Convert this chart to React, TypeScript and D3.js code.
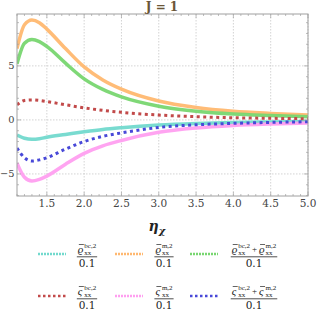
import * as d3 from 'd3';
import React from 'react';

// eta_chi sample points and the six curves
const etaValues = [1.1, 1.2, 1.3, 1.4, 1.5, 1.75, 2.0, 2.25, 2.5, 3.0, 3.5, 4.0, 4.5, 5.0];
const rhoBc = [-1.4, -1.7, -1.8, -1.75, -1.6, -1.35, -1.1, -0.88, -0.72, -0.48, -0.34, -0.25, -0.19, -0.15];
const rhoM = [6.6, 8.8, 9.25, 9.0, 8.4, 6.6, 4.9, 3.7, 2.85, 1.75, 1.15, 0.8, 0.6, 0.45];
const rhoSum = [5.2, 7.1, 7.45, 7.25, 6.8, 5.25, 3.8, 2.82, 2.13, 1.27, 0.81, 0.55, 0.41, 0.3];
const varsBc = [1.4, 1.8, 1.85, 1.8, 1.7, 1.4, 1.12, 0.88, 0.7, 0.45, 0.3, 0.2, 0.15, 0.11];
const varsM = [-4.0, -5.3, -5.65, -5.5, -5.2, -4.1, -3.1, -2.4, -1.9, -1.15, -0.75, -0.52, -0.38, -0.28];
const varsSum = [-2.6, -3.5, -3.8, -3.7, -3.5, -2.7, -2.0, -1.52, -1.2, -0.7, -0.45, -0.32, -0.23, -0.17];

const xTicks = [1.5, 2.0, 2.5, 3.0, 3.5, 4.0, 4.5, 5.0];
const yTicks = [-5, 0, 5];
const title = 'J = 1';

type Series = {
  values: number[];
  color: string;
  dotted: boolean;
  base: string;
  parts: string[];
};

const series: Series[] = [
  { values: rhoBc, color: '#72d9cd', dotted: false, base: 'ϱ', parts: ['bc'] },
  { values: rhoM, color: '#ffb870', dotted: false, base: 'ϱ', parts: ['m'] },
  { values: rhoSum, color: '#78d670', dotted: false, base: 'ϱ', parts: ['bc', 'm'] },
  { values: varsBc, color: '#c24a4a', dotted: true, base: 'ς', parts: ['bc'] },
  { values: varsM, color: '#ff9ff0', dotted: false, base: 'ς', parts: ['m'] },
  { values: varsSum, color: '#4848d8', dotted: true, base: 'ς', parts: ['bc', 'm'] },
];

const width = 319;
const height = 315;
const left = 17;
const right = 308;
const top = 14;
const bottom = 196;
const serif = "'DejaVu Serif', 'Liberation Serif', serif";
const times = "'Liberation Serif', serif";

// rough Times widths (em) for the small scripts
const supEm: Record<string, number> = { bc: 1.69, m: 1.53 };
const scriptSize = 7;
const baseW = 6.5;

// one term like ϱ̄ xx^{bc,2}, drawn from its left edge
function Term({ x, y, base, sup }: { x: number; y: number; base: string; sup: string }) {
  return (
    <g>
      <text x={x} y={y} fontSize={11} fontStyle="italic" fontFamily={times} fill="#222">{base}</text>
      <line x1={x + 1} x2={x + 6} y1={y - 8.5} y2={y - 8.5} stroke="#222" strokeWidth={0.7} />
      <text x={x + baseW} y={y + 2} fontSize={scriptSize} fontFamily={times} fill="#222">xx</text>
      <text x={x + baseW} y={y - 5.5} fontSize={scriptSize} fontFamily={times} fill="#222">{sup + ',2'}</text>
    </g>
  );
}

function Fraction({ cx, y, base, parts }: { cx: number; y: number; base: string; parts: string[] }) {
  const termW = (p: string) => baseW + supEm[p] * scriptSize;
  const plusW = 9;
  const total = parts.reduce((s, p) => s + termW(p), 0) + plusW * (parts.length - 1);
  let xPos = cx - total / 2;
  const items: React.ReactNode[] = [];
  parts.forEach((p, i) => {
    if (i > 0) {
      items.push(
        <text key={'p' + i} x={xPos + plusW / 2} y={y - 1} fontSize={9} textAnchor="middle" fontFamily={times} fill="#222">+</text>
      );
      xPos += plusW;
    }
    items.push(<Term key={'t' + i} x={xPos} y={y} base={base} sup={p} />);
    xPos += termW(p);
  });
  return (
    <g>
      {items}
      <line x1={cx - total / 2 - 1} x2={cx + total / 2 + 1} y1={y + 3.8} y2={y + 3.8} stroke="#222" strokeWidth={0.8} />
      <text x={cx} y={y + 13.5} fontSize={10.5} textAnchor="middle" fontFamily={serif} fill="#222">0.1</text>
    </g>
  );
}

export default function App() {
  const x = d3.scaleLinear().domain([1.1, 5.0]).range([left, right]);
  const y = d3.scaleLinear().domain([-7.04, 9.8]).range([bottom, top]);

  const line = d3.line<number>()
    .x((_, i) => x(etaValues[i]))
    .y((d) => y(d))
    .curve(d3.curveMonotoneX);

  const minorX = d3.range(11, 51).map((v) => v / 10);
  const minorY = d3.range(-7, 10);

  const legendCols = [{ sx: 38, cx: 87 }, { sx: 115, cx: 164 }, { sx: 190, cx: 254 }];
  const legendRows = [254, 296];

  return (
    <svg width={width} height={height} style={{ position: 'absolute', left: 0, top: 0, background: '#fff' }}>
      <defs>
        <clipPath id="plotClip">
          <rect x={left} y={top} width={right - left} height={bottom - top} />
        </clipPath>
      </defs>

      {/* grid */}
      {xTicks.map((t) => (
        <line key={'gx' + t} x1={x(t)} x2={x(t)} y1={top} y2={bottom} stroke="#c8c8c8" strokeWidth={0.8} strokeDasharray="1.5,1.5" />
      ))}
      {yTicks.map((t) => (
        <line key={'gy' + t} x1={left} x2={right} y1={y(t)} y2={y(t)} stroke="#c8c8c8" strokeWidth={0.8} strokeDasharray="1.5,1.5" />
      ))}

      {/* curves */}
      <g clipPath="url(#plotClip)">
        {series.map((s, i) => (
          <path
            key={i}
            d={line(s.values) ?? ''}
            fill="none"
            stroke={s.color}
            strokeWidth={s.dotted ? 3 : 3.5}
            strokeDasharray={s.dotted ? '3,3.5' : undefined}
            strokeOpacity={s.dotted ? 1 : 0.95}
          />
        ))}
      </g>

      {/* frame and ticks */}
      <rect x={left} y={top} width={right - left} height={bottom - top} fill="none" stroke="#a0a0a0" strokeWidth={1} />
      {minorX.map((t) => {
        const major = xTicks.some((m) => Math.abs(m - t) < 1e-6);
        const len = major ? 4 : 2;
        return (
          <g key={'tx' + t} stroke="#a0a0a0" strokeWidth={0.7}>
            <line x1={x(t)} x2={x(t)} y1={bottom} y2={bottom - len} />
            <line x1={x(t)} x2={x(t)} y1={top} y2={top + len} />
          </g>
        );
      })}
      {minorY.map((t) => {
        const major = yTicks.includes(t);
        const len = major ? 4 : 2;
        return (
          <g key={'ty' + t} stroke="#a0a0a0" strokeWidth={0.7}>
            <line x1={left} x2={left + len} y1={y(t)} y2={y(t)} />
            <line x1={right} x2={right - len} y1={y(t)} y2={y(t)} />
          </g>
        );
      })}

      {/* tick labels */}
      {xTicks.map((t) => (
        <text key={'lx' + t} x={x(t)} y={207} fontSize={10.5} textAnchor="middle" fontFamily={serif} fill="#444">
          {t.toFixed(1)}
        </text>
      ))}
      {yTicks.map((t) => (
        <text key={'ly' + t} x={14.5} y={y(t) + 3.5} fontSize={9.8} textAnchor="end" fontFamily={serif} fill="#444">
          {t < 0 ? '−' + Math.abs(t) : String(t)}
        </text>
      ))}

      {/* title and axis label */}
      <text x={162} y={11} fontSize={12} fontWeight="bold" textAnchor="middle" fontFamily={serif} fill="#6b5638">{title}</text>
      <text x={157} y={231} fontSize={14} fontWeight="bold" fontStyle="italic" textAnchor="middle" fontFamily={serif} fill="#222">
        η<tspan fontSize={10} dy={3}>χ</tspan>
      </text>

      {/* legend */}
      {series.map((s, i) => {
        const col = legendCols[i % 3];
        const ry = legendRows[Math.floor(i / 3)];
        return (
          <g key={'lg' + i}>
            <line
              x1={col.sx}
              x2={col.sx + 28}
              y1={ry}
              y2={ry}
              stroke={s.color}
              strokeWidth={2.5}
              strokeDasharray={s.dotted ? '2.5,2.5' : '2,1'}
            />
            <Fraction cx={col.cx} y={ry - 1} base={s.base} parts={s.parts} />
          </g>
        );
      })}
    </svg>
  );
}
